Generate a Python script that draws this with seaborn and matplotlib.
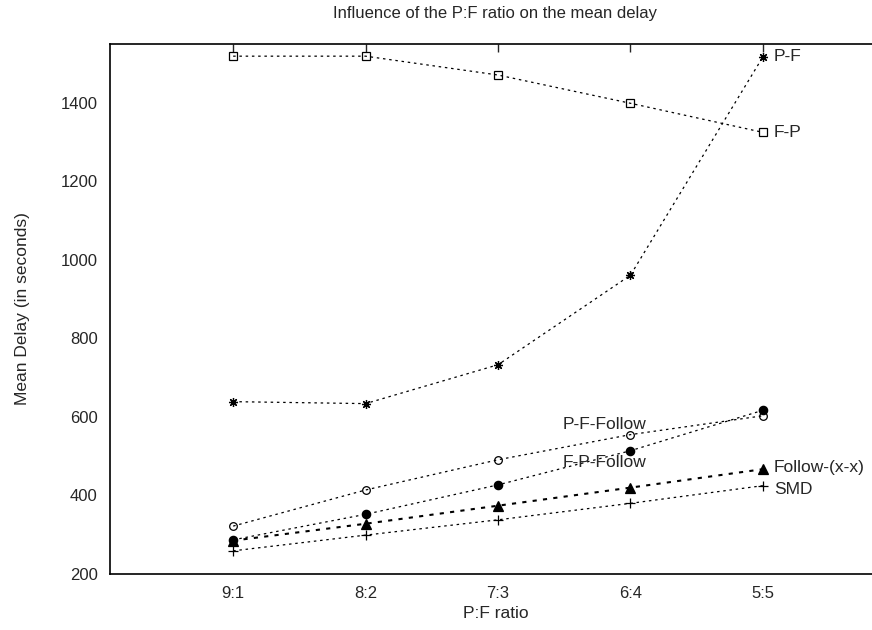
import pandas as pd
import matplotlib
matplotlib.use('Agg')
import matplotlib.pyplot as plt
import seaborn as sns

# values
ratios = ['9:1', '8:2', '7:3', '6:4', '5:5']
f_p = [1519, 1519, 1471, 1399, 1325]
p_f = [639, 634, 733, 961, 1517]
p_f_follow = [322, 414, 491, 555, 603]
f_p_follow = [287, 352, 427, 514, 617]
follow_xx = [285, 328, 374, 420, 467]
smd = [259, 299, 338, 380, 425]

sns.set_style('white')
plt.rcParams['font.family'] = ['Liberation Sans', 'DejaVu Sans']
plt.rcParams['font.size'] = 12

fig = plt.figure(figsize=(8.72, 6.30), dpi=100)
ax = fig.add_axes([110 / 872, 56 / 630, 1.01 - 110 / 872, 530 / 630])

series = [
    ('F-P', f_p, dict(marker='s', markersize=5.5, markerfacecolor='none', linewidth=0.9)),
    ('P-F', p_f, dict(marker=(8, 2, 0), markersize=6.5, linewidth=0.9)),
    ('P-F-Follow', p_f_follow, dict(marker='o', markersize=5.5, markerfacecolor='none', linewidth=0.9)),
    ('F-P-Follow', f_p_follow, dict(marker='o', markersize=6, linewidth=0.9)),
    ('Follow-(x-x)', follow_xx, dict(marker='^', markersize=6.5, linewidth=1.5)),
    ('SMD', smd, dict(marker='+', markersize=7, linewidth=0.9)),
]

for name, vals, style in series:
    df = pd.DataFrame({'ratio': ratios, 'delay': vals})
    sns.lineplot(data=df, x='ratio', y='delay', ax=ax, color='black',
                 linestyle=(0, (2, 3)), markeredgecolor='black',
                 markeredgewidth=0.9, sort=False, **style)

# series labels placed next to the curves
lab = 12.5
ax.annotate('P-F', (4, p_f[-1]), xytext=(8, 0), textcoords='offset points',
            va='center', ha='left', fontsize=lab)
ax.annotate('F-P', (4, f_p[-1]), xytext=(8, 0), textcoords='offset points',
            va='center', ha='left', fontsize=lab)
ax.annotate('Follow-(x-x)', (4, follow_xx[-1]), xytext=(8, 1), textcoords='offset points',
            va='center', ha='left', fontsize=lab)
ax.annotate('SMD', (4, smd[-1]), xytext=(8, -3), textcoords='offset points',
            va='center', ha='left', fontsize=lab)
ax.text(2.49, 580, 'P-F-Follow', va='center', ha='left', fontsize=lab)
ax.text(2.49, 483, 'F-P-Follow', va='center', ha='left', fontsize=lab)

ax.set_xlim(-0.93, 4.89)
ax.set_ylim(200, 1550)
ax.set_yticks(range(200, 1401, 200))
ax.set_title('Influence of the P:F ratio on the mean delay', fontsize=12, pad=19)
ax.set_xlabel('P:F ratio', fontsize=12.5, labelpad=3)
ax.set_ylabel('Mean Delay (in seconds)', fontsize=12.5, labelpad=22)
ax.tick_params(direction='in', length=6, width=1, top=True, labelsize=12, pad=9)
for s in ax.spines.values():
    s.set_linewidth(1.2)
    s.set_color('black')

fig.savefig('out.png', dpi=100)
